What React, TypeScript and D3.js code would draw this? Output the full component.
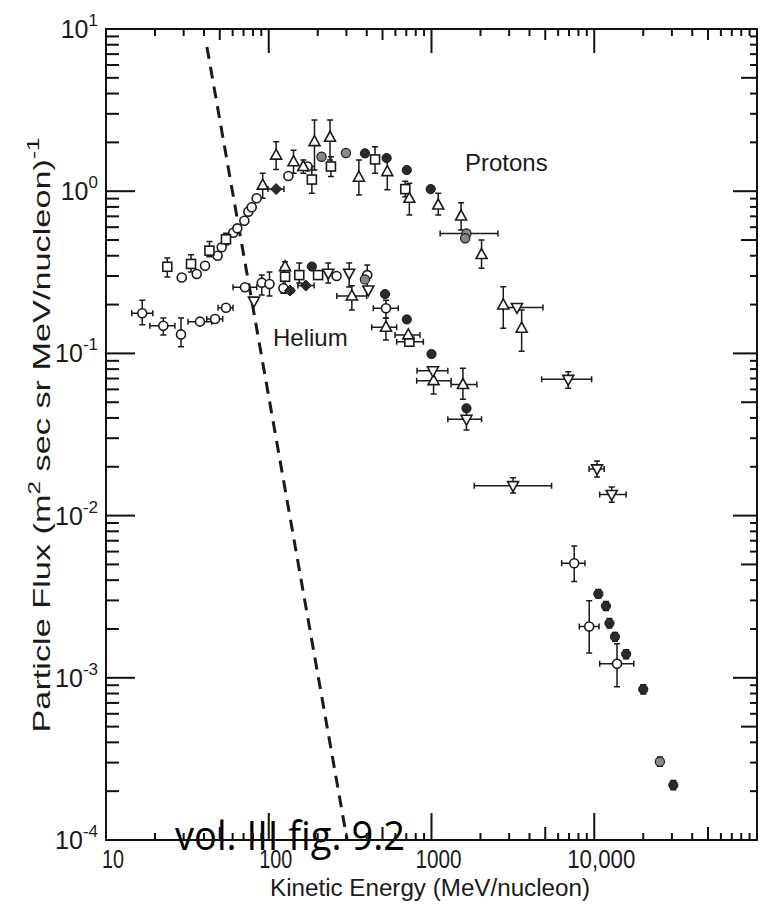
import React from "react";
import * as d3 from "d3";

const N = null;
type Pt = [number, number, number | null, number | null, number | null, number | null];

// [energy, flux, energyLow, energyHigh, fluxLow, fluxHigh]
const protonCircles: Pt[] = [
  [29.2, 0.294, N, N, N, N], [36.1, 0.309, N, N, N, N], [40.6, 0.347, N, N, N, N],
  [48.5, 0.4, N, N, N, N], [51.4, 0.451, N, N, N, N], [60.6, 0.555, N, N, N, N],
  [64.1, 0.59, N, N, N, N], [70.8, 0.658, N, N, N, N], [74.9, 0.748, N, N, N, N],
  [78.6, 0.796, N, N, N, N], [84.3, 0.904, N, N, N, N], [132, 1.24, N, N, N, N],
  [173, 1.42, N, N, N, N],
];
const protonSquares: Pt[] = [
  [23.8, 0.342, N, N, 0.296, 0.387], [33.3, 0.356, N, N, 0.318, 0.405],
  [43.2, 0.43, N, N, 0.394, 0.489], [54.6, 0.505, N, N, 0.466, 0.551],
  [184, 1.18, N, N, 0.97, 1.42], [241, 1.42, N, N, 1.23, 1.63],
  [450, 1.57, N, N, 1.29, 1.88], [690, 1.03, N, N, 0.925, 1.15],
];
const protonTriangles: Pt[] = [
  [91.8, 1.09, N, N, 0.904, 1.29], [111, 1.67, N, N, 1.36, 2.02],
  [142, 1.52, N, N, 1.29, 1.79], [163, 1.42, N, N, 1.29, 1.56],
  [191, 2.02, N, N, 1.35, 2.75], [238, 2.15, N, N, 1.56, 2.75],
  [358, 1.22, N, N, 0.948, 1.56], [535, 1.32, N, N, 1.02, 1.56],
  [731, 0.904, N, N, 0.713, 1.12], [1100, 0.822, N, N, 0.713, 0.97],
  [1520, 0.703, N, N, 0.577, 0.849], [2030, 0.407, N, N, 0.335, 0.5],
  [2760, 0.199, N, N, 0.143, 0.258], [3580, 0.143, N, N, 0.103, 0.185],
];
const protonFilled: Pt[] = [
  [390, 1.71, N, N, N, N], [530, 1.6, N, N, N, N], [705, 1.35, N, N, N, N], [989, 1.03, N, N, N, N],
];
const protonGray: Pt[] = [
  [211, 1.63, N, N, N, N], [298, 1.72, N, N, N, N],
  [1640, 0.549, 1130, 2560, N, N], [1610, 0.513, N, N, N, N],
];
const protonDiamonds: Pt[] = [[111, 1.03, 99, 124, N, N]];

const heliumCircles: Pt[] = [
  [16.7, 0.177, 14.4, 19.4, 0.15, 0.213], [22.5, 0.148, 18.6, 26.5, 0.13, 0.165],
  [28.9, 0.131, N, N, 0.11, 0.165], [37.8, 0.157, 31.9, 44.6, N, N],
  [46.8, 0.163, 41.6, 52.1, N, N], [54.6, 0.191, 48.8, 60.3, N, N],
  [71.4, 0.256, 60.3, 84.3, N, N], [90.6, 0.273, N, N, 0.229, 0.304],
  [101, 0.268, N, N, 0.226, 0.318], [123, 0.252, N, N, 0.235, 0.341],
  [261, 0.3, N, N, N, N], [403, 0.304, N, N, 0.257, 0.351],
  [525, 0.19, 439, 625, 0.165, 0.213],
  [7530, 0.00508, 6310, 8770, 0.00392, 0.0065],
  [9310, 0.00207, 8090, 10700, 0.00142, 0.00299],
  [13800, 0.00122, 10800, 17500, 0.000881, 0.00162],
];
const heliumSquares: Pt[] = [
  [126, 0.297, N, N, 0.258, 0.33], [154, 0.304, N, N, 0.272, 0.361],
  [201, 0.304, N, N, N, N], [731, 0.118, 611, 891, N, N],
];
const heliumTriangles: Pt[] = [
  [126, 0.343, N, N, 0.33, 0.367], [324, 0.226, 262, 400, 0.185, 0.261],
  [525, 0.145, 429, 611, 0.121, 0.165], [720, 0.13, 597, 849, N, N],
  [1030, 0.0679, 811, 1320, 0.0562, 0.0791], [1560, 0.0643, 1320, 1900, 0.0521, 0.0809],
];
const heliumTriDown: Pt[] = [
  [81.1, 0.21, N, N, N, N], [232, 0.312, N, N, 0.272, 0.361],
  [312, 0.312, N, N, 0.257, 0.361], [409, 0.246, N, N, N, N],
  [1020, 0.0781, 815, 1260, N, N], [1640, 0.0393, 1260, 2030, 0.0337, 0.0435],
  [3350, 0.192, 2750, 4840, N, N], [6920, 0.0692, 4750, 9640, 0.061, 0.0771],
  [3170, 0.0153, 1830, 5470, 0.0138, 0.0171], [10400, 0.0194, 9290, 11500, 0.0173, 0.0217],
  [12800, 0.0135, 10800, 15700, 0.0121, 0.015],
];
const heliumFilled: Pt[] = [
  [184, 0.343, N, N, N, N], [518, 0.232, N, N, N, N], [705, 0.162, N, N, N, N],
  [1000, 0.0991, N, N, N, N], [1640, 0.0459, N, N, N, N],
  [10600, 0.00329, N, N, 0.0031, 0.0035], [11800, 0.00277, N, N, 0.0026, 0.00295],
  [12400, 0.00217, N, N, 0.00203, 0.00232], [13400, 0.00179, N, N, 0.00168, 0.0019],
  [15700, 0.0014, N, N, 0.00131, 0.00149], [20000, 0.000849, N, N, 0.000795, 0.000905],
  [30600, 0.000218, N, N, 0.000204, 0.000233],
];
const heliumGray: Pt[] = [
  [390, 0.286, N, N, N, N], [25300, 0.000304, N, N, 0.000285, 0.000325],
];
const heliumDiamonds: Pt[] = [[169, 0.262, 151, 190, N, N], [135, 0.244, 128, 142, N, N]];

// dashed cutoff line endpoints [energy, flux]
const cutoffLine: [number, number][] = [[41.7, 7.74], [303, 1e-4]];

const xTickValues = [10, 100, 1000, 10000];
const xTickLabels = ["10", "100", "1000", "10,000"];
const yTickExps = [1, 0, -1, -2, -3, -4];
const yTickLabels = ["1", "0", "-1", "-2", "-3", "-4"];
const xLabelLen = [22, 33, 46, 68];
const tickMultipliers = [1, 2, 3, 4, 5, 6, 7, 8, 9];
const xDecades = [1, 2, 3, 4];
const yDecades = [-4, -3, -2, -1, 0];

const FONT = "'Liberation Sans', Arial, sans-serif";
const INK = "#1a1a1a";

const x = d3.scaleLog().domain([10, 1e5]).range([106, 757]);
const y = d3.scaleLog().domain([1e-4, 10]).range([840, 29]);

function Marker({ kind, cx, cy }: { kind: string; cx: number; cy: number }) {
  const sw = 1.6;
  if (kind === "circle") return <circle cx={cx} cy={cy} r={4.5} fill="#fff" stroke={INK} strokeWidth={sw} />;
  if (kind === "filled") return <circle cx={cx} cy={cy} r={4.6} fill="#2a2a2a" stroke={INK} strokeWidth={1} />;
  if (kind === "gray") return <circle cx={cx} cy={cy} r={4.6} fill="#888" stroke={INK} strokeWidth={1.2} />;
  if (kind === "square") return <rect x={cx - 4.5} y={cy - 4.5} width={9} height={9} fill="#fff" stroke={INK} strokeWidth={sw} />;
  if (kind === "triUp") return <path d={`M${cx},${cy - 6}L${cx + 5.5},${cy + 4}L${cx - 5.5},${cy + 4}Z`} fill="#fff" stroke={INK} strokeWidth={sw} />;
  if (kind === "triDown") return <path d={`M${cx},${cy + 6}L${cx + 5.5},${cy - 4}L${cx - 5.5},${cy - 4}Z`} fill="#fff" stroke={INK} strokeWidth={sw} />;
  return <path d={`M${cx},${cy - 5.5}L${cx + 5.5},${cy}L${cx},${cy + 5.5}L${cx - 5.5},${cy}Z`} fill="#2a2a2a" stroke={INK} strokeWidth={1} />;
}

const seriesList: { kind: string; data: Pt[] }[] = [
  { kind: "circle", data: protonCircles },
  { kind: "square", data: protonSquares },
  { kind: "triUp", data: protonTriangles },
  { kind: "filled", data: protonFilled },
  { kind: "gray", data: protonGray },
  { kind: "diamond", data: protonDiamonds },
  { kind: "circle", data: heliumCircles },
  { kind: "square", data: heliumSquares },
  { kind: "triUp", data: heliumTriangles },
  { kind: "triDown", data: heliumTriDown },
  { kind: "filled", data: heliumFilled },
  { kind: "gray", data: heliumGray },
  { kind: "diamond", data: heliumDiamonds },
];

export default function App() {
  const X0 = 106, X1 = 757, Y0 = 840, Y1 = 29;
  const lineGen = d3.line<[number, number]>().x((d) => x(d[0])).y((d) => y(d[1]));

  const tickRects: React.ReactNode[] = [];
  xDecades.forEach((dec) => {
    tickMultipliers.forEach((k) => {
      if (k === 1 && dec === 1) return;
      const v = k * Math.pow(10, dec);
      const px = x(v);
      const lb = k === 1 ? 27 : k === 5 ? 13 : 7;
      const lt = k === 1 ? 24 : k === 5 ? 11 : 7;
      tickRects.push(<rect key={`xb${dec}-${k}`} x={px - 1} y={Y0 - lb} width={2} height={lb} fill="#111" />);
      tickRects.push(<rect key={`xt${dec}-${k}`} x={px - 1} y={Y1} width={2} height={lt} fill="#111" />);
    });
  });
  yDecades.forEach((dec) => {
    tickMultipliers.forEach((k) => {
      if (k === 1 && dec === -4) return;
      const v = k * Math.pow(10, dec);
      const py = y(v);
      const ll = k === 1 ? 29 : 13;
      const lr = k === 1 ? 24 : k === 5 ? 16 : 7;
      tickRects.push(<rect key={`yl${dec}-${k}`} x={X0} y={py - 1} width={ll} height={2} fill="#111" />);
      tickRects.push(<rect key={`yr${dec}-${k}`} x={X1 - lr} y={py - 1} width={lr} height={2} fill="#111" />);
    });
  });

  return (
    <svg width={765} height={906} viewBox="0 0 765 906" style={{ display: "block", position: "absolute", left: 0, top: 0, background: "#fff" }}>
      <rect x={0} y={0} width={765} height={906} fill="#fff" />
      {xTickValues.map((v, i) => (
        <text key={"xl" + i} x={x(v) + 7} y={868} textAnchor="middle" fontFamily={FONT} fontSize={25} fill={INK} textLength={xLabelLen[i]} lengthAdjust="spacingAndGlyphs">
          {xTickLabels[i]}
        </text>
      ))}
      {yTickExps.map((e, i) => (
        <text key={"yl" + i} x={98} y={y(Math.pow(10, e)) + 9} textAnchor="end" fontFamily={FONT} fontSize={25} fill={INK}>
          10
          <tspan dy={-12} fontSize={17}>{yTickLabels[i]}</tspan>
        </text>
      ))}
      <text x={430} y={896} textAnchor="middle" fontFamily={FONT} fontSize={23} fill={INK} textLength={320} lengthAdjust="spacingAndGlyphs">
        Kinetic Energy (MeV/nucleon)
      </text>
      <text transform="translate(50,435) rotate(-90)" textAnchor="middle" fontFamily={FONT} fontSize={24} fill={INK} textLength={595} lengthAdjust="spacingAndGlyphs">
        Particle Flux (m<tspan dy={-10} fontSize={17}>2</tspan>
        <tspan dy={10}> sec sr MeV/nucleon)</tspan>
        <tspan dy={-11} fontSize={17}>-1</tspan>
      </text>
      <path d={lineGen(cutoffLine) || ""} fill="none" stroke={INK} strokeWidth={3} strokeDasharray="12 8" />
      {seriesList.map((s, si) =>
        s.data.map((p, i) => {
          const cx = x(p[0]);
          const cy = y(p[1]);
          let d = "";
          if (p[2] != null && p[3] != null) {
            const a = x(p[2]), b = x(p[3]);
            d += `M${a},${cy}H${b}M${a},${cy - 3}V${cy + 3}M${b},${cy - 3}V${cy + 3}`;
          }
          if (p[4] != null && p[5] != null) {
            const a = y(p[4]), b = y(p[5]);
            d += `M${cx},${a}V${b}M${cx - 3},${a}H${cx + 3}M${cx - 3},${b}H${cx + 3}`;
          }
          return d ? <path key={`e${si}-${i}`} d={d} fill="none" stroke={INK} strokeWidth={1.5} /> : null;
        })
      )}
      {seriesList.map((s, si) =>
        s.data.map((p, i) => <Marker key={`m${si}-${i}`} kind={s.kind} cx={x(p[0])} cy={y(p[1])} />)
      )}
      <text x={465} y={171} fontFamily={FONT} fontSize={24} fill={INK}>Protons</text>
      <text x={273} y={346} fontFamily={FONT} fontSize={24} fill={INK}>Helium</text>
      <text x={175} y={850} fontFamily="'Open Sans', 'Noto Sans', sans-serif" fontSize={40} fill="#000" textLength={230} lengthAdjust="spacingAndGlyphs">
        vol. III fig. 9.2
      </text>
      <rect x={X0} y={Y1} width={X1 - X0} height={Y0 - Y1} fill="none" stroke="#111" strokeWidth={2} />
      <g>{tickRects}</g>
    </svg>
  );
}
